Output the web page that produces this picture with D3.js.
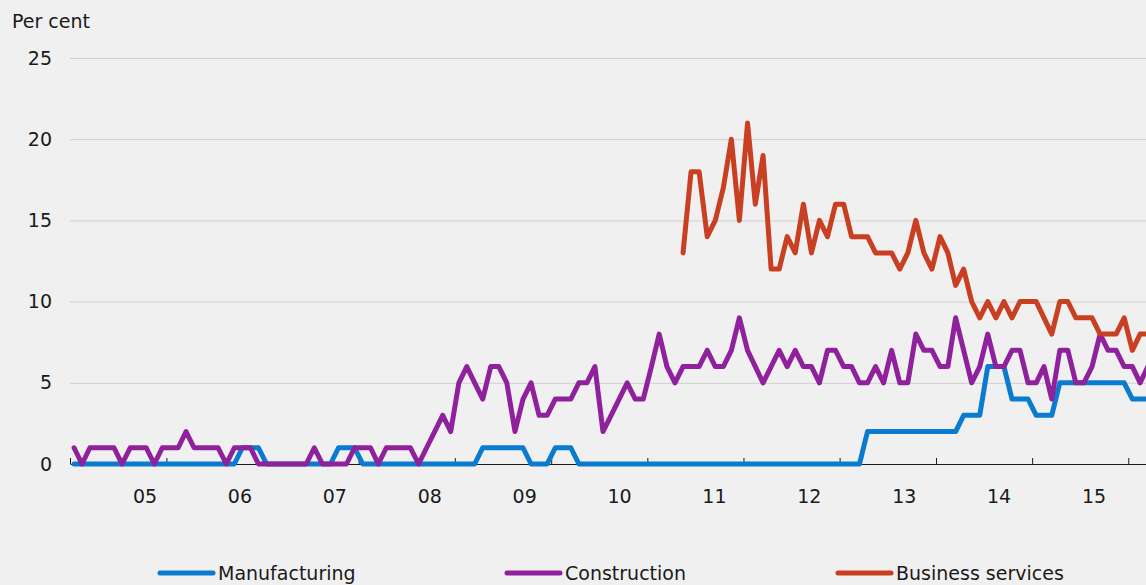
<!DOCTYPE html>
<html>
<head>
  <meta charset="utf-8">
  <title>Per cent</title>
  <style>
  body {
    margin: 0;
    background: #f0f0f0;
  }
  svg {
    display: block;
    font-family: "DejaVu Sans", sans-serif;
    fill: #1a1a1a;
  }
  .grid line {
    stroke: #cfcfcf;
    stroke-width: 1px;
  }
  .grid .domain,
  .y-axis .domain {
    display: none;
  }
  .x-axis .domain,
  .x-axis line {
    stroke: #1a1a1a;
    stroke-width: 1px;
  }
  .series {
    fill: none;
    stroke-width: 5px;
    stroke-linejoin: round;
    stroke-linecap: round;
  }
  .label {
    font-size: 19px;
    fill: #1a1a1a;
  }
  </style>
</head>
<body>
  <div id="chart"></div>
  <script src="https://cdn.jsdelivr.net/npm/d3@7/dist/d3.min.js"></script>
  <script>
  // monthly observations, Jan 2004 to Mar 2015
  var firstMonth = "2004-01";
  var lastMonth = "2015-03";
  var businessStart = "2010-05";

  var seriesNames = ["Manufacturing", "Construction", "Business services"];
  var seriesColors = ["#0a7bcf", "#8f229c", "#c83f21"];

  // one row per year
  var manufacturing = [
    0, 0, 0, 0, 0, 0, 0, 0, 0, 0, 0, 0,
    0, 0, 0, 0, 0, 0, 0, 0, 0, 1, 1, 1,
    0, 0, 0, 0, 0, 0, 0, 0, 0, 1, 1, 1,
    0, 0, 0, 0, 0, 0, 0, 0, 0, 0, 0, 0,
    0, 0, 0, 1, 1, 1, 1, 1, 1, 0, 0, 0,
    1, 1, 1, 0, 0, 0, 0, 0, 0, 0, 0, 0,
    0, 0, 0, 0, 0, 0, 0, 0, 0, 0, 0, 0,
    0, 0, 0, 0, 0, 0, 0, 0, 0, 0, 0, 0,
    0, 0, 0, 2, 2, 2, 2, 2, 2, 2, 2, 2,
    2, 2, 2, 3, 3, 3, 6, 6, 6, 4, 4, 4,
    3, 3, 3, 5, 5, 5, 5, 5, 5, 5, 5, 5,
    4, 4, 4
  ];

  var construction = [
    1, 0, 1, 1, 1, 1, 0, 1, 1, 1, 0, 1,
    1, 1, 2, 1, 1, 1, 1, 0, 1, 1, 1, 0,
    0, 0, 0, 0, 0, 0, 1, 0, 0, 0, 0, 1,
    1, 1, 0, 1, 1, 1, 1, 0, 1, 2, 3, 2,
    5, 6, 5, 4, 6, 6, 5, 2, 4, 5, 3, 3,
    4, 4, 4, 5, 5, 6, 2, 3, 4, 5, 4, 4,
    6, 8, 6, 5, 6, 6, 6, 7, 6, 6, 7, 9,
    7, 6, 5, 6, 7, 6, 7, 6, 6, 5, 7, 7,
    6, 6, 5, 5, 6, 5, 7, 5, 5, 8, 7, 7,
    6, 6, 9, 7, 5, 6, 8, 6, 6, 7, 7, 5,
    5, 6, 4, 7, 7, 5, 5, 6, 8, 7, 7, 6,
    6, 5, 6
  ];

  // starts May 2010
  var businessServices = [
                        13, 18, 18, 14, 15, 17, 20, 15,
    21, 16, 19, 12, 12, 14, 13, 16, 13, 15, 14, 16,
    16, 14, 14, 14, 13, 13, 13, 12, 13, 15, 13, 12,
    14, 13, 11, 12, 10,  9, 10,  9, 10,  9, 10, 10,
    10,  9,  8, 10, 10,  9,  9,  9,  8,  8,  8,  9,
     7,  8,  8
  ];

  var yTicks = [0, 5, 10, 15, 20, 25];
  var yearLabels = ["05", "06", "07", "08", "09", "10", "11", "12", "13", "14", "15"];

  var width = 1146;
  var height = 585;
  var left = 70;
  var yearWidth = 96.2;

  var parseMonth = d3.timeParse("%Y-%m");

  var svg = d3.select("#chart")
    .append("svg")
    .attr("width", width)
    .attr("height", height);

  var x = d3.scaleTime()
    .domain([new Date(2004, 0, 1), new Date(2016, 0, 1)])
    .range([left, left + yearWidth * 12]);

  var y = d3.scaleLinear()
    .domain([0, 25])
    .range([464, 58]);

  // year labels sit a little left of the year ticks, like in the original
  var labelX = d3.scaleLinear()
    .domain([0, yearLabels.length - 1])
    .range([x(new Date(2004, 9, 12)), x(new Date(2014, 7, 24))]);

  // point in the middle of each month
  function midMonth(d) {
    return new Date((d.getTime() + d3.timeMonth.offset(d, 1).getTime()) / 2);
  }

  function toPoints(start, values) {
    return values.map(function(v, i) {
      return { date: midMonth(d3.timeMonth.offset(parseMonth(start), i)), value: v };
    });
  }

  var series = [
    toPoints(firstMonth, manufacturing),
    toPoints(firstMonth, construction),
    toPoints(businessStart, businessServices)
  ];

  //grid lines
  svg.append("g")
    .attr("class", "grid")
    .attr("transform", "translate(" + left + ",0)")
    .call(d3.axisLeft(y).tickValues(yTicks.slice(1)).tickSize(-(width - left)).tickFormat(""));

  //y labels
  svg.append("g")
    .attr("class", "y-axis")
    .attr("transform", "translate(52,0)")
    .call(d3.axisLeft(y).tickValues(yTicks).tickSize(0).tickPadding(0))
    .call(function(g) {
      g.selectAll("text")
        .attr("class", "label")
        .attr("fill", "#1a1a1a")
        .style("font-family", "DejaVu Sans, sans-serif");
    });

  svg.append("text")
    .attr("class", "label")
    .attr("x", 12)
    .attr("y", 28)
    .text("Per cent");

  //x axis with short ticks pointing up
  svg.append("g")
    .attr("class", "x-axis")
    .attr("transform", "translate(0," + y(0) + ")")
    .call(d3.axisBottom(x).ticks(d3.timeYear.every(1)).tickSizeInner(-6).tickSizeOuter(0).tickFormat(""));

  svg.append("g")
    .selectAll("text")
    .data(yearLabels)
    .enter()
    .append("text")
    .attr("class", "label")
    .attr("x", function(d, i) { return labelX(i); })
    .attr("y", 503)
    .attr("text-anchor", "middle")
    .text(function(d) { return d; });

  var line = d3.line()
    .x(function(d) { return x(d.date); })
    .y(function(d) { return y(d.value); });

  svg.append("g")
    .selectAll("path")
    .data(series)
    .enter()
    .append("path")
    .attr("class", "series")
    .attr("stroke", function(d, i) { return seriesColors[i]; })
    .attr("d", line);

  //legend
  var legendX = [160, 507, 838];
  var legend = svg.append("g")
    .selectAll("g")
    .data(seriesNames)
    .enter()
    .append("g")
    .attr("transform", function(d, i) { return "translate(" + legendX[i] + ",573)"; });

  legend.append("line")
    .attr("x1", 0)
    .attr("x2", 53)
    .attr("stroke", function(d, i) { return seriesColors[i]; })
    .attr("stroke-width", 5)
    .attr("stroke-linecap", "round");

  legend.append("text")
    .attr("class", "label")
    .attr("x", 58)
    .attr("y", 7)
    .text(function(d) { return d; });
  </script>
</body>
</html>
